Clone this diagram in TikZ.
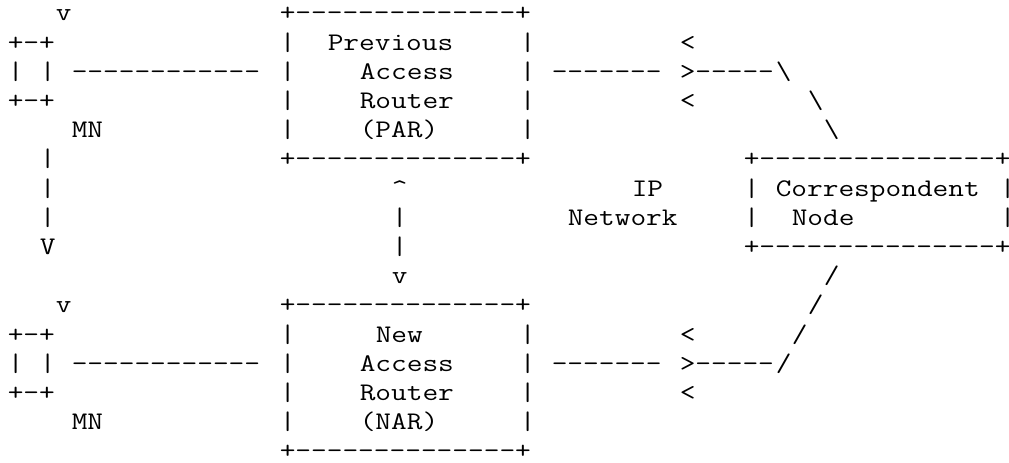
\documentclass[tikz,border=0pt]{standalone}
\usepackage{fontspec}
\newfontfamily\asciifont{Latin Modern Mono}[FakeStretch=1.203, Ligatures=TeXOff]

\begin{document}
\begin{tikzpicture}[x=12pt, y=-21.9pt,
  asc/.style={anchor=base west, inner sep=0pt, font=\asciifont\fontsize{19pt}{21.9pt}\selectfont}]
\useasboundingbox (-0.469,-0.719) rectangle (62.594,15.103);

% mobile node before the move
\node[asc] (mnInA) at (3,0) {v};
\node[asc] (mnTopA) at (0,1) {+-+};
\node[asc] (mnLeftA) at (0,2) {|};
\node[asc] (mnRightA) at (2,2) {|};
\node[asc] (mnBotA) at (0,3) {+-+};
\node[asc] (mnNameA) at (4,4) {MN};
\node[asc] (linkA) at (4,2) {------------};

% the move
\foreach \r in {5,6,7} \node[asc] (move\r) at (2,\r) {|};
\node[asc] (moveTip) at (2,8) {V};

% PAR
\node[asc] (parTop) at (17,0) {+--------------+};
\foreach \r in {1,...,4} {
  \node[asc] (parLeft\r) at (17,\r) {|};
  \node[asc] (parRight\r) at (32,\r) {|};
}
\node[asc] (parBot) at (17,5) {+--------------+};
\node[asc] (parName1) at (20,1) {Previous};
\node[asc] (parName2) at (22,2) {Access};
\node[asc] (parName3) at (22,3) {Router};
\node[asc] (parName4) at (22,4) {(PAR)};

% PAR <-> NAR
\node[asc] (tunUp) at (24,6) {\textasciicircum};
\node[asc] (tun7) at (24,7) {|};
\node[asc] (tun8) at (24,8) {|};
\node[asc] (tunDown) at (24,9) {v};

% PAR side of the network
\node[asc] (parIn1) at (42,1) {<};
\node[asc] (parLink) at (34,2) {-------};
\node[asc] (parOut) at (42,2) {>-----};
\node[asc] (parIn2) at (42,3) {<};
\node[asc] (slashA2) at (48,2) {\textbackslash};
\node[asc] (slashA3) at (50,3) {\textbackslash};
\node[asc] (slashA4) at (51,4) {\textbackslash};

\node[asc] (netName1) at (39,6) {IP};
\node[asc] (netName2) at (35,7) {Network};

% correspondent node
\node[asc] (cnTop) at (46,5) {+---------------+};
\foreach \r in {6,7} {
  \node[asc] (cnLeft\r) at (46,\r) {|};
  \node[asc] (cnRight\r) at (62,\r) {|};
}
\node[asc] (cnBot) at (46,8) {+---------------+};
\node[asc] (cnName1) at (48,6) {Correspondent};
\node[asc] (cnName2) at (49,7) {Node};

% NAR side of the network
\node[asc] (slashB9) at (51,9) {/};
\node[asc] (slashB10) at (50,10) {/};
\node[asc] (slashB11) at (49,11) {/};
\node[asc] (slashB12) at (48,12) {/};
\node[asc] (narIn1) at (42,11) {<};
\node[asc] (narLink) at (34,12) {-------};
\node[asc] (narOut) at (42,12) {>-----};
\node[asc] (narIn2) at (42,13) {<};

% NAR
\node[asc] (narTop) at (17,10) {+--------------+};
\foreach \r in {11,...,14} {
  \node[asc] (narLeft\r) at (17,\r) {|};
  \node[asc] (narRight\r) at (32,\r) {|};
}
\node[asc] (narBot) at (17,15) {+--------------+};
\node[asc] (narName1) at (23,11) {New};
\node[asc] (narName2) at (22,12) {Access};
\node[asc] (narName3) at (22,13) {Router};
\node[asc] (narName4) at (22,14) {(NAR)};

% mobile node after the move
\node[asc] (mnInB) at (3,10) {v};
\node[asc] (mnTopB) at (0,11) {+-+};
\node[asc] (mnLeftB) at (0,12) {|};
\node[asc] (mnRightB) at (2,12) {|};
\node[asc] (mnBotB) at (0,13) {+-+};
\node[asc] (mnNameB) at (4,14) {MN};
\node[asc] (linkB) at (4,12) {------------};

\end{tikzpicture}
\end{document}
